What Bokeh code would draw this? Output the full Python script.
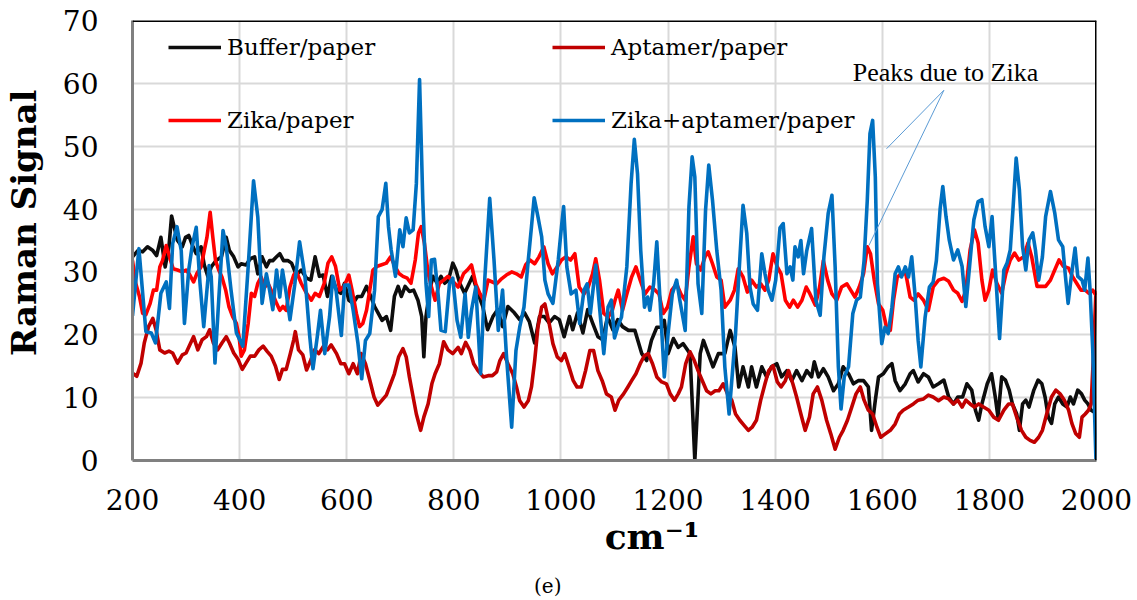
from bokeh.plotting import figure
from bokeh.models import Range1d, Legend, LegendItem, Span, Label, LinearAxis, ColumnDataSource, FixedTicker
from bokeh.embed import file_html
from bokeh.resources import INLINE

# ---------------- data ----------------
buffer_x = [200,210,219,228,238,245,253,261,268,273,278,284,293,299,305,313,319,328,334,341,347,356,366,375,381,389,397,403,412,420,428,434,442,450,456,462,469,475,482,490,
            497,506,515,525,533,541,549,556,564,572,581,589,596,604,612,620,628,637,645,652,659,666,674,682,689,696,702,709,717,725,733,740,744,748,755,761,769,776,783,790,
            798,804,811,820,826,835,845,854,863,873,882,891,901,913,923,932,941,951,960,969,978,988,997,1006,1016,1022,1031,1041,1050,1059,1069,1078,1087,1097,
            1106,1115,1126,1138,1151,1160,1169,1179,1188,1193,1200,1210,1219,1228,1241,1250,1260,1266,1275,1284,1294,1306,1316,1325,1332,1340,1350,1356,1365,1375,1384,1393,
            1403,1412,1422,1431,1440,1450,1459,1468,1473,1481,1490,1499,1509,1518,1527,1537,1546,1555,1565,1574,1580,1587,1593,1602,1611,1618,1624,1633,1643,1652,1658,1667,1677,1686,1695,
            1705,1715,1724,1733,1741,1750,1758,1767,1774,1780,1786,1796,1804,1811,1816,1823,1830,1837,1843,1851,1856,1862,1868,1874,1883,1891,1898,1904,1910,1916,1922,1929,1937,1945,1951,1957,1965,1972,1978,1984,1990,1996]
buffer_y = [32.4,33.4,33.2,34,33.4,32.6,35.5,30.8,34,38.9,37.1,35,34,35.5,35.8,34,32.9,34,31.1,29.2,30.8,31.8,32.4,35.5,33.4,32.4,30.8,31.3,31.1,32.1,32.4,29.7,32.4,30.8,31.8,31.8,32.4,32.9,31.8,31.8,
            31.4,29.5,30.3,29,28.7,32.4,29.3,29.5,26.1,29.3,27.1,26.6,28.2,25.5,25,26.1,26.1,27.7,26.1,24.5,23.4,22.3,22.9,20.7,26.1,27.7,26.1,27.7,26.9,27.1,25.5,22.9,16.5,22.9,27.1,29.3,28.2,29.3,28.2,28.7,
            31.4,30.3,28.2,26.6,27.7,29.3,26.6,24.5,20.8,22.9,24,21.3,24.5,23.5,22.4,23.5,22.1,18.7,22.9,22.9,21.9,22.9,22.4,19.7,22.9,20.8,23.5,20.3,24,21.9,19.7,19.2,22.9,20.8,
            22.4,21.3,20.7,20.7,17,15.9,19.1,21.2,21.2,22.3,17,19.4,18,18.6,17,0,17,19.1,17,14.9,17,17,20.7,18,11.7,14.9,11.7,14.9,11.7,14.9,13.3,14.9,
            15.4,13.3,14.3,12.7,14.3,12.7,14.3,13.3,15.7,13.3,14.6,13.3,11.1,12.2,14.9,13.8,12.2,12.7,12.7,11.7,4.8,9.6,13.3,13.8,14.9,15.4,12.7,11.1,12.2,13.8,14.3,12.5,13.8,13.3,11.7,
            12.2,12.8,10.1,9,10.1,10.1,12.2,11.2,8,6.4,9,12.2,13.8,10.1,6.9,13.3,12.8,11.2,9,7.4,4.8,9,9.6,8.5,11.2,12.8,12.2,10.1,6.9,5.9,9,10.1,9,8.5,10.1,9,11.2,10.6,9.6,9,8,7.7]

aptamer_x = [200,208,216,222,230,238,244,251,260,268,275,284,293,300,306,314,322,330,338,344,351,359,367,375,381,389,397,405,412,420,428,436,444,451,459,467,474,480,487,495,
             501,504,510,518,525,533,540,548,556,564,571,581,589,596,604,612,620,627,635,643,651,658,666,674,682,689,697,705,711,717,724,730,738,744,752,759,765,773,781,789,
             798,808,814,822,830,837,845,855,864,872,880,886,893,901,910,917,923,931,939,945,951,957,964,970,978,985,993,1001,1007,1015,1023,1030,1038,1046,1054,1061,1069,1077,1085,1094,
             1101,1108,1117,1125,1132,1140,1148,1156,1163,1171,1179,1188,1197,1204,1212,1219,1225,1233,1241,1249,1256,1264,1272,1280,1288,1295,1303,1311,1319,1326,1334,1342,1350,1357,1365,1373,1381,1388,1396,
             1404,1411,1419,1425,1433,1440,1448,1456,1464,1471,1479,1487,1496,1504,1512,1520,1527,1535,1543,1551,1559,1566,1574,1582,1590,1597,1605,1615,1624,1632,1639,1649,1658,1667,1677,1686,1695,
             1705,1715,1724,1733,1741,1749,1756,1764,1772,1780,1789,1799,1808,1817,1827,1836,1843,1851,1860,1868,1876,1884,1892,1899,1907,1916,1924,1932,1940,1948,1954,1961,1968,1973,1979,1985,1990,1995,1999]
aptamer_y = [13.9,13.4,15.5,18.7,21.3,22.6,20.8,17.6,17.1,17.4,17.1,15.5,16.8,17.1,18.2,19.7,17.6,19.2,19.7,20.8,18.7,17.6,18.7,19.7,18.7,17.1,16.1,14.5,15.5,16.6,16.6,17.6,18.2,17.4,16.6,15,12.9,14.5,14.5,17.1,
             19.2,20.5,17.6,16.8,14.4,16,17.6,17,18.1,17.6,18.4,17,15.4,15.4,13.8,15.4,13.8,17,15.4,12.8,10.1,8.8,9.6,10.4,12.2,13.8,16.5,17.8,16.5,13.3,10.1,7.4,4.8,6.9,9,12.2,13.8,15.4,18.9,17.6,
             17,18,17,18.8,17.5,15.4,14.3,13.3,13.5,13.5,14.1,15.9,17,15.4,13.8,11.7,9.5,8.5,9.5,11.7,15.9,21.2,24.4,24.9,21.8,18.6,16.5,15.9,17,14.9,12.7,11.7,11.7,14.3,17.5,17.5,14.3,12.7,10.6,10.1,
             8,9.6,10.6,11.7,12.7,13.8,15.4,16.7,17,15.4,13.3,12.5,12.2,10.6,9.6,10.6,11.7,15.4,17.3,15.9,14.3,12.7,11.1,10.6,11.1,11.1,12.2,10.6,9.6,7.4,6.4,5.6,4.8,5.3,6.4,9.6,12.2,14.3,15.1,
             12.5,11.7,12.7,14.3,12.2,10.1,7.4,4.8,6.9,10.6,11.7,9.6,6.4,4.2,1.8,3.7,4.8,6.4,8.5,10.6,11.7,9.6,8,7.4,5.3,3.7,4.2,4.8,5.8,7.4,8,8.5,9,9.6,9.8,10.4,10.1,
             9.5,10.1,9.8,9,9.6,8.5,9.6,9,8.5,9,8.5,8,6.9,6.4,8,9,9,6.9,4.8,3.7,3.2,2.9,3.7,4.8,7.4,10.1,11.2,10.6,9.6,8,5.9,4.3,3.7,6.9,7.4,8,9,18,27]

zika_x = [200,206,213,219,225,233,239,245,251,256,263,269,276,284,293,300,306,314,320,328,334,339,345,350,355,361,367,374,380,387,394,399,403,409,416,422,428,434,440,447,453,459,469,475,481,487,494,
          501,506,515,525,534,541,549,558,565,572,579,587,595,604,610,618,624,630,637,643,649,657,664,674,682,689,697,705,713,720,728,734,739,745,752,758,765,773,781,789,
          798,808,818,825,833,841,849,856,864,872,880,889,898,908,917,926,934,942,951,959,968,976,984,993,1001,1009,1018,1026,1034,1043,1051,1059,1065,1072,1080,1088,1096,
          1101,1107,1115,1123,1132,1140,1148,1157,1166,1176,1183,1191,1199,1207,1216,1224,1232,1239,1247,1253,1261,1269,1275,1283,1291,1299,1306,1316,1324,1331,1340,1348,1356,1365,1373,1381,1388,1396,
          1404,1411,1419,1427,1434,1442,1450,1458,1465,1475,1483,1490,1498,1506,1515,1524,1534,1541,1549,1557,1565,1572,1578,1585,1593,1601,1608,1615,1621,1628,1636,1644,1652,1659,1667,1677,1686,1695,
          1705,1715,1724,1733,1741,1749,1756,1764,1772,1779,1786,1792,1799,1806,1814,1823,1831,1839,1847,1855,1864,1872,1879,1889,1898,1905,1914,1922,1930,1938,1948,1955,1963,1971,1979,1986,1993,1999]
zika_y = [31.8,28.2,26.1,23.4,23.2,25,27.1,27.1,30.8,31.8,34.2,32.4,30.5,30.3,30,30.3,29.7,28.4,29.7,30.8,33.4,35.5,39.5,35.5,31.8,30.3,29.2,27.1,24.5,22.9,21.8,19.7,16.6,17.6,21.8,26.6,26.1,28.2,29.2,27.6,28.2,27.1,25,23.9,24.5,23.9,27.6,
          29.5,30.1,28.2,26.6,25.5,26.6,26.1,28.2,31.4,32.4,30.9,27.1,27.7,29.5,27.1,23.4,21.3,21.8,23.9,27.1,30.3,30.9,31.1,31.4,32.4,31.1,29.8,29.3,29,28.2,31.9,36.2,37.2,34.6,29.8,27.7,25.5,28.2,28.7,29.3,
          28.5,27.6,29.7,30.3,31.1,28.1,26.5,25.5,28.7,28.4,28.1,28.9,29.5,30,29.7,29.2,31.1,31.9,31.3,32.4,34,31.3,29.7,30.8,31.9,32.4,31.9,32.9,27.6,26.5,27.6,29.7,32.1,28.7,23.4,22.8,23.9,
          25.5,27.1,23.9,26.5,29.2,30.8,28.7,26.5,27.6,27.1,26.5,23.4,24.4,27.1,28.1,26.5,25.5,30.8,35.6,31.3,30.3,32.4,33.2,31.3,29.2,28.7,24.4,25.5,27.1,30.5,29.2,26.8,28.7,27.6,28.1,27.1,28.7,32.9,
          30.8,29.7,25.5,24.4,25.5,24.4,25.5,27.6,26.5,24.7,27.6,31.8,28.7,26.5,25.5,27.6,28.1,27.1,26,27.6,29.7,34,32.9,28.7,24.9,23.9,21.2,20.7,25.5,29.2,29.7,29.7,26,25.5,26.5,25.5,23.9,27.6,
          28.7,29,28.5,27.1,26.6,25.3,27.1,33.5,36.7,34.6,28.7,25.5,27.1,30.3,28.2,26.6,29.8,31.9,33,31.9,32.4,34.6,32.4,27.7,27.7,27.7,28.7,30.3,31.9,30.9,30.6,29.3,28.2,27.1,27.1,26.6,27.1,26.3]

zika_apt_x = [200,212,225,235,243,253,263,269,275,283,291,297,305,311,319,326,333,343,347,354,361,369,375,384,394,406,416,426,434,442,450,456,462,469,475,480,487,494,
              503,512,522,531,537,545,551,559,568,574,580,590,596,604,612,621,628,635,643,652,659,666,673,678,683,691,699,705,711,717,724,730,736,742,748,753,758,764,770,776,784,792,
              798,806,813,821,827,833,841,850,858,867,875,883,891,898,908,916,923,931,939,945,950,957,964,970,976,985,995,1001,1005,1011,1019,1028,1035,1043,1049,1055,1065,1072,1080,1088,1094,
              1100,1107,1113,1123,1131,1137,1143,1149,1156,1162,1166,1173,1179,1185,1193,1200,1208,1216,1222,1232,1239,1245,1250,1256,1263,1270,1276,1283,1291,1299,1306,1314,1320,1326,1332,1340,1347,1353,1359,1367,1375,1381,1387,1394,1401,
              1409,1415,1422,1428,1433,1437,1443,1448,1453,1459,1468,1476,1484,1491,1499,1506,1512,1518,1523,1529,1537,1545,1552,1559,1566,1572,1577,1582,1587,1591,1599,1605,1611,1618,1624,1630,1636,1643,1649,1655,1661,1667,1672,1680,1688,1695,1701,
              1708,1713,1719,1725,1733,1741,1749,1756,1763,1771,1779,1786,1792,1799,1805,1812,1819,1827,1833,1839,1844,1850,1856,1862,1868,1874,1881,1886,1892,1899,1905,1914,1922,1929,1937,1942,1947,1953,1960,1965,1973,1978,1984,1988,1993,1999]
zika_apt_y = [23,33.7,20.5,20.3,18.7,26.6,28.4,24.2,34.5,37.2,33.4,21.8,30.3,33.9,37.1,28.2,21.3,31,29.2,15.5,25.5,36.6,34,27.1,20.3,18.2,30.8,44.5,38.7,25,29.7,27.1,24,30.3,26,30.3,26.6,22.4,
              28,34.8,29.3,19.7,14.6,19.7,23.9,17,22.9,29.3,27.1,19.9,27.9,27.9,23.9,18.6,13,19.1,20.2,27.1,38.8,39.9,44.1,37.2,33.5,29.3,36.7,34,38.6,36.2,36.7,44,60.6,41.5,28.2,22.9,31.9,32,27.1,20.7,20.5,28.2,
              29,22.3,19.6,26.5,19.6,23.9,27.6,13.8,29.2,41.7,31.9,20.7,27.1,17,5.3,17.5,21.2,24.4,31.9,37.2,41.8,38.8,35.6,28.7,26.5,25,31.9,37.2,40.4,30.8,26.5,27.1,21.8,27.1,28.1,23.4,31.1,24.4,17,24.4,25.5,
              19.5,21.5,22.8,30.8,44.1,51.1,45.6,33.4,24.4,26,23.9,28.1,34.8,25.5,13.3,20.2,26.5,28.7,25.5,20.7,40.3,48.3,45.1,28.1,23.4,39.8,47,41.4,33.4,27.1,14.9,7.4,13.8,20.2,29.2,40.6,36.1,27.6,24.9,23.9,32.9,29.7,27.1,25.5,28.7,
              37,37.7,29.7,30.8,28.7,34,32.4,35,29.7,33.4,36.9,25.5,23.1,32.4,39.3,42.2,30.8,14.9,8.2,13.3,14.9,23.4,25.5,26,31.8,41.4,52,54.1,45.1,28.1,18.6,21.2,20.2,24.4,29.7,30.8,29.2,30.8,29.2,32.4,26.5,19.1,14.9,22.8,27.6,28.4,31.8,
              40,43.6,38.8,35.1,31.9,33.5,30.9,24.5,30.9,38.3,41.2,41.5,37.2,34,38.8,29.3,19.4,30.3,31.4,33.5,39.9,48.1,43.1,34,30.3,35.1,36.2,33.5,28.7,32.4,38.8,42.8,39.4,35.1,34,29.3,25,29.3,33.8,29.3,28.7,27.1,32.2,27.1,17.6,0]

series_names = ["Buffer/paper", "Aptamer/paper", "Zika/paper", "Zika+aptamer/paper"]
series_colors = ["#0D0D0D", "#C00000", "#FF0000", "#0070C0"]
x_ticks = [200, 400, 600, 800, 1000, 1200, 1400, 1600, 1800, 2000]
y_ticks = [0, 10, 20, 30, 40, 50, 60, 70]

# annotation callout (data coordinates)
callout_from = (1715, 58.9)
callout_to = [(1608, 49.6), (1575, 34.2)]

SERIF = "DejaVu Serif"
NB = "\u00a0"

p = figure(width=1137, height=600, output_backend="svg", toolbar_location=None,
           x_range=Range1d(200, 2000), y_range=Range1d(0, 70),
           min_border_left=131, min_border_right=41, min_border_top=20, min_border_bottom=140)
p.outline_line_color = None
p.background_fill_color = "white"
p.border_fill_color = "white"

for ax, ticks in ((p.xaxis[0], x_ticks), (p.yaxis[0], y_ticks)):
    ax.ticker = FixedTicker(ticks=ticks)
    ax.major_tick_line_color = None
    ax.minor_tick_line_color = None
    ax.axis_line_color = "#808080"
    ax.axis_line_width = 3
    ax.major_label_text_font = SERIF
    ax.major_label_text_font_size = "28px"
    ax.major_label_text_color = "black"
    ax.axis_label_text_font = SERIF
    ax.axis_label_text_font_style = "bold"
    ax.axis_label_text_color = "black"
p.xaxis[0].major_label_standoff = 22
p.yaxis[0].major_label_standoff = 28

p.yaxis[0].axis_label = NB * 3 + "Raman Signal"
p.yaxis[0].axis_label_text_font_size = "34px"
p.yaxis[0].axis_label_standoff = 16
p.xaxis[0].axis_label = NB * 6 + "cm\u207b\u00b9"
p.xaxis[0].axis_label_text_font_size = "36px"
p.xaxis[0].axis_label_standoff = 2

# caption "(e)" carried by a bare extra axis below the x axis
cap_axis = LinearAxis(ticker=FixedTicker(ticks=[]), axis_line_color=None,
                      major_tick_line_color=None, minor_tick_line_color=None,
                      major_label_text_font_size="0px", major_label_standoff=0,
                      axis_label="(e)" + NB * 21, axis_label_standoff=14,
                      axis_label_text_font=SERIF, axis_label_text_font_size="20px",
                      axis_label_text_font_style="normal", axis_label_text_color="black")
p.add_layout(cap_axis, "below")

p.xgrid[0].ticker = FixedTicker(ticks=x_ticks)
p.ygrid[0].ticker = FixedTicker(ticks=y_ticks)
for g in (p.xgrid[0], p.ygrid[0]):
    g.grid_line_color = "#D9D9D9"
    g.grid_line_width = 2

data = [(buffer_x, buffer_y), (aptamer_x, aptamer_y), (zika_x, zika_y), (zika_apt_x, zika_apt_y)]
renderers = []
for (xs, ys), name, col in zip(data, series_names, series_colors):
    r = p.line(xs, ys, line_color=col, line_width=3.6, line_join="round")
    renderers.append(r)

# frame borders top/right
p.add_layout(Span(location=70, dimension="width", line_color="black", line_width=3))
p.add_layout(Span(location=2000, dimension="height", line_color="black", line_width=3))

# legends (two columns)
def make_legend(items, x, y):
    return Legend(items=items, location=(x, y), orientation="vertical",
                  glyph_width=53, glyph_height=30, label_height=30, spacing=43,
                  label_standoff=6, padding=0, margin=0,
                  label_text_font=SERIF, label_text_font_size="23px", label_text_color="black",
                  background_fill_alpha=0, border_line_alpha=0)

leg1 = make_legend([LegendItem(label=series_names[0], renderers=[renderers[0]]),
                    LegendItem(label=series_names[2], renderers=[renderers[2]])], 36, 325)
leg2 = make_legend([LegendItem(label=series_names[1], renderers=[renderers[1]]),
                    LegendItem(label=series_names[3], renderers=[renderers[3]])], 420, 325)
p.add_layout(leg1)
p.add_layout(leg2)

# callout
seg_src = ColumnDataSource(dict(x0=[callout_from[0]] * 2, y0=[callout_from[1]] * 2,
                                x1=[c[0] for c in callout_to], y1=[c[1] for c in callout_to]))
p.segment(x0="x0", y0="y0", x1="x1", y1="y1", source=seg_src, line_color="#5B9BD5", line_width=1)
p.add_layout(Label(x=1718, y=61.7, text="Peaks due to Zika", text_font="Liberation Serif",
                   text_font_size="26px", text_align="center", text_baseline="middle", text_color="black"))

open("out.html", "w").write(file_html(p, INLINE))
